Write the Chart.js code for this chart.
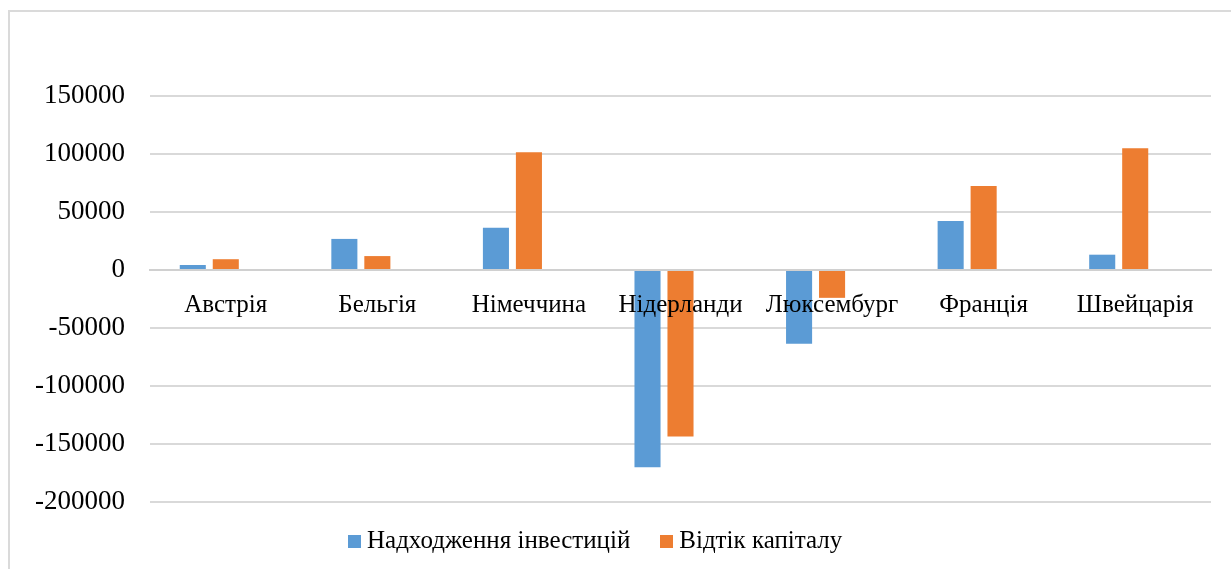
<!DOCTYPE html>
<html>
<head>
<meta charset="utf-8">
<script src="https://cdn.jsdelivr.net/npm/chart.js@4"></script>
<style>
  html, body { margin: 0; padding: 0; background: #fff; overflow: hidden; }
  #frame { position: absolute; left: 8px; top: 10px; width: 1400px; height: 700px;
           border: 2px solid #DADADA; box-sizing: border-box; }
  #wrap { position: absolute; left: 0; top: 0; width: 1231px; height: 569px; }
  #legenda { position: absolute; left: 348px; top: 523px; white-space: nowrap;
             font-family: "Liberation Serif", serif; font-size: 25px; line-height: 34px; color: #000; }
  #legenda .item { display: inline-block; margin-right: 30px; }
  #legenda .box { display: inline-block; width: 13px; height: 13px; margin-right: 6px; vertical-align: 0px; }
</style>
</head>
<body>
<div id="frame"></div>
<div id="wrap"><canvas id="chart" width="1231" height="569"></canvas></div>
<div id="legenda"></div>
<script>
// Дані
const kraini = ["Австрія", "Бельгія", "Німеччина", "Нідерланди", "Люксембург", "Франція", "Швейцарія"];
const nadkhodzhennia = [4300, 26800, 36500, -170000, -63500, 42300, 13200];
const vidtik = [9300, 12000, 101500, -143500, -24000, 72500, 105000];
const porozhnia = [null, null, null, null, null, null, null]; // третій ряд без даних, як в Excel
const osTicks = [-200000, -150000, -100000, -50000, 0, 50000, 100000, 150000];

const SERIF = "Liberation Serif";
Chart.defaults.font.family = SERIF;
Chart.defaults.color = "#000";

const grafik = new Chart(document.getElementById("chart"), {
    type: "bar",
    data: {
        labels: kraini,
        datasets: [
            { label: "Надходження інвестицій", data: nadkhodzhennia, backgroundColor: "#5B9BD5" },
            { label: "Відтік капіталу", data: vidtik, backgroundColor: "#ED7D31" },
            { label: "", data: porozhnia, backgroundColor: "#A5A5A5" }
        ]
    },
    options: {
        responsive: false,
        animation: false,
        categoryPercentage: 0.653,
        barPercentage: 0.79,
        layout: { padding: { top: 96, right: 20, left: 10, bottom: 67 } },
        plugins: {
            tooltip: { enabled: false },
            legend: { display: false }
        },
        scales: {
            x: {
                position: { y: 0 },
                grid: { display: false },
                border: { display: true, color: "#D0D0D0", width: 2 },
                ticks: { color: "#000", font: { family: SERIF, size: 25 }, padding: 12, maxRotation: 0, autoSkip: false, z: 1 }
            },
            y: {
                min: osTicks[0],
                max: osTicks[osTicks.length - 1],
                afterBuildTicks: axis => { axis.ticks = osTicks.map(v => ({ value: v })); },
                grid: { color: "#D9D9D9", lineWidth: 2, drawTicks: false },
                border: { display: false },
                ticks: {
                    color: "#000",
                    font: { family: SERIF, size: 27 },
                    padding: 25,
                    callback: v => String(v)
                }
            }
        }
    }
});

// Легенда (HTML), з тих самих рядів даних
const legenda = document.getElementById("legenda");
grafik.data.datasets.filter(ds => ds.label !== "").forEach(ds => {
    const item = document.createElement("span");
    item.className = "item";
    item.innerHTML = `<span class="box" style="background:${ds.backgroundColor}"></span>${ds.label}`;
    legenda.appendChild(item);
});
</script>
</body>
</html>
